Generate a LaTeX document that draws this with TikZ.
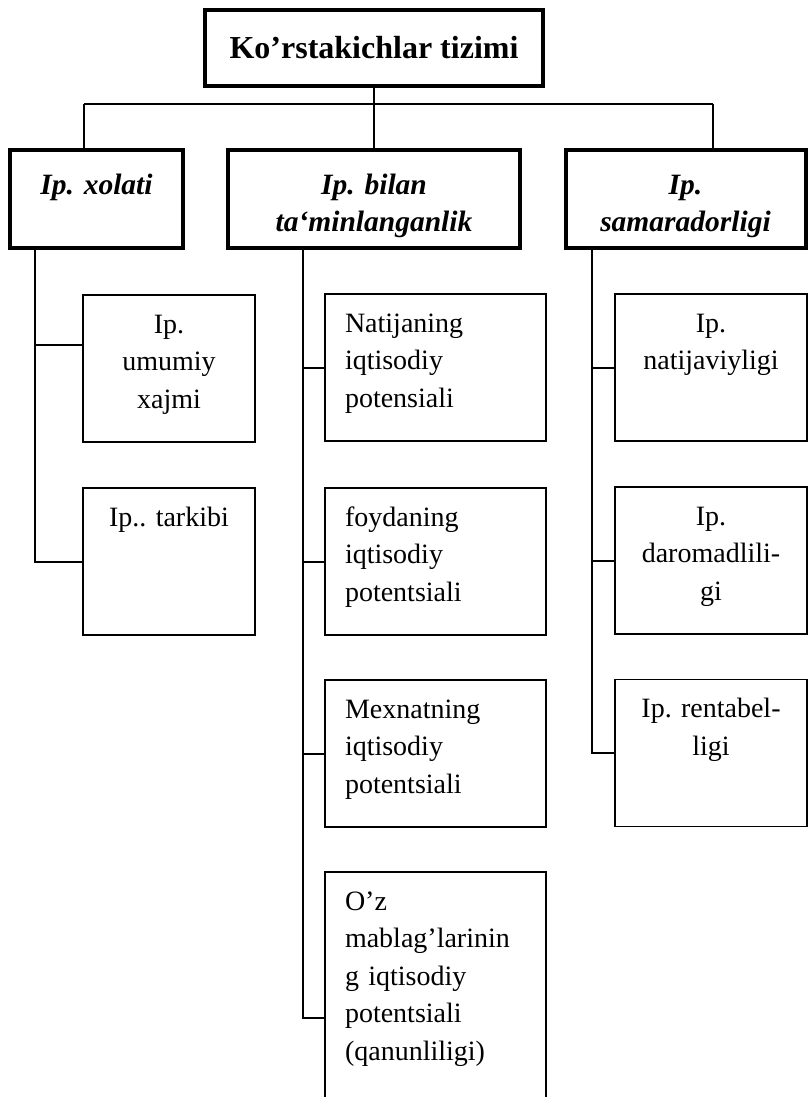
\documentclass[tikz,border=0pt]{standalone}
\usepackage{fontspec}
\setmainfont{Liberation Serif}
\frenchspacing
\newcommand{\mainlabelfont}{\fontsize{32pt}{38pt}\selectfont\bfseries}
\newcommand{\grouplabelfont}{\fontsize{29.5pt}{37.5pt}\selectfont\bfseries\itshape}
\newcommand{\itemlabelfont}{\fontsize{28pt}{37.5pt}\selectfont}
\begin{document}
\begin{tikzpicture}[x=1pt, y=-1pt,
  mainbox/.style={draw, line width=4.5pt, font=\mainlabelfont, minimum width=338pt, minimum height=76pt},
  groupbox/.style={draw, line width=4pt, align=center, font=\grouplabelfont, inner sep=6pt, text height=38pt, text depth=48pt},
  itembox/.style={draw, line width=1.8pt, align=center, font=\itemlabelfont, inner sep=6pt, text height=32pt, text depth=103pt},
  midbox/.style={itembox, align=left, inner xsep=20pt},
  link/.style={line width=2pt}]
\useasboundingbox (0,0) rectangle (808,1097);
\node[mainbox] (kursatkich) at (374,48) {Ko’rstakichlar tizimi};
\node[groupbox, text width=161pt] (xolati) at (96.5,199) {Ip. xolati};
\node[groupbox, text width=280pt] (taminlash) at (374,199) {Ip. bilan\\ta`minlanganlik};
\node[groupbox, text width=228pt] (samara) at (685.5,199) {Ip.\\samaradorligi};
\coordinate (busL) at (84,104);
\coordinate (busR) at (713,104);
% left column
\node[itembox, text width=160pt] (umumiy) at (169,368.5) {Ip.\\umumiy\\xajmi};
\node[itembox, text width=160pt] (tarkib) at (169,561.5) {Ip.. tarkibi};
% middle column
\node[midbox, text width=181pt] (natija) at (435.5,367.5) {Natijaning\\iqtisodiy\\potensiali};
\node[midbox, text width=181pt] (foyda) at (435.5,561.5) {foydaning\\iqtisodiy\\potentsiali};
\node[midbox, text width=181pt] (mexnat) at (435.5,753.5) {Mexnatning\\iqtisodiy\\potentsiali};
\node[midbox, text width=181pt, text depth=248pt] (mablag) at (435.5,1018) {O’z\\mablag’larinin\\g iqtisodiy\\potentsiali\\(qanunliligi)};
% right column
\node[itembox, text width=180pt] (natijaviy) at (711,367.5) {Ip.\\natijaviyligi};
\node[itembox, text width=180pt] (daromad) at (711,560.5) {Ip.\\daromadlili-\\gi};
\node[itembox, text width=180pt] (rentabel) at (711,753) {Ip. rentabel-\\ligi};
% top level
\draw[link] (busL) -- (busR);
\draw[link] (kursatkich.south) -- (kursatkich.south |- busL);
\draw[link] (busL) -- (busL |- xolati.north);
\draw[link] (kursatkich.south |- busL) -- (taminlash.north);
\draw[link] (busR) -- (busR |- samara.north);
% branches
\draw[link] ([xshift=-61.5pt]xolati.south) |- ([yshift=23.5pt]umumiy.west);
\draw[link] ([xshift=-61.5pt]xolati.south) |- (tarkib.west);
\draw[link] ([xshift=-71pt]taminlash.south) |- (natija.west);
\draw[link] ([xshift=-71pt]taminlash.south) |- (foyda.west);
\draw[link] ([xshift=-71pt]taminlash.south) |- (mexnat.west);
\draw[link] ([xshift=-71pt]taminlash.south) |- (mablag.west);
\draw[link] ([xshift=-93.5pt]samara.south) |- (natijaviy.west);
\draw[link] ([xshift=-93.5pt]samara.south) |- (daromad.west);
\draw[link] ([xshift=-93.5pt]samara.south) |- (rentabel.west);
\end{tikzpicture}
\end{document}
